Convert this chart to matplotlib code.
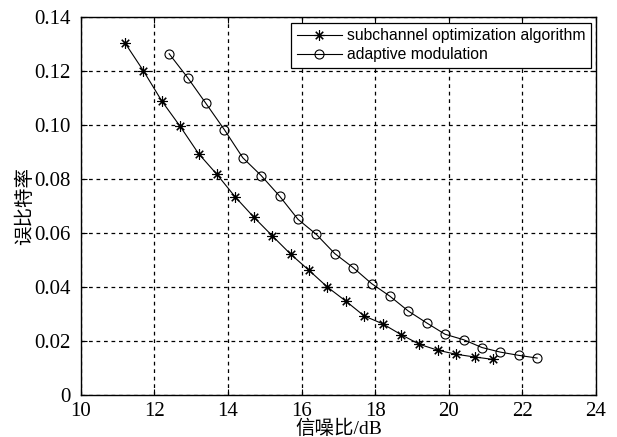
import matplotlib.pyplot as plt
import numpy as np

# data
snr_sub = [11.2, 11.7, 12.2, 12.7, 13.2, 13.7, 14.2, 14.7, 15.2, 15.7, 16.2,
           16.7, 17.2, 17.7, 18.2, 18.7, 19.2, 19.7, 20.2, 20.7, 21.2]
ber_sub = [0.1304, 0.1201, 0.1089, 0.0995, 0.0894, 0.0817, 0.0733, 0.0659, 0.0590, 0.0522, 0.0462,
           0.0400, 0.0348, 0.0293, 0.0264, 0.0224, 0.0188, 0.0166, 0.0151, 0.0141, 0.0132]

snr_ada = [12.4, 12.9, 13.4, 13.9, 14.4, 14.9, 15.4, 15.9, 16.4, 16.9, 17.4,
           17.9, 18.4, 18.9, 19.4, 19.9, 20.4, 20.9, 21.4, 21.9, 22.4]
ber_ada = [0.1264, 0.1176, 0.1080, 0.0983, 0.0879, 0.0813, 0.0737, 0.0651, 0.0595, 0.0524, 0.0472,
           0.0413, 0.0366, 0.0311, 0.0267, 0.0225, 0.0205, 0.0176, 0.0159, 0.0147, 0.0137]

x_ticks = [10, 12, 14, 16, 18, 20, 22, 24]
y_ticks = [0, 0.02, 0.04, 0.06, 0.08, 0.10, 0.12, 0.14]
y_labels = ['0', '0.02', '0.04', '0.06', '0.08', '0.10', '0.12', '0.14']

serif_cjk = ['Liberation Serif', 'Noto Sans CJK SC']
asterisk = (8, 2, 0)  # matlab style '*'

fig = plt.figure(figsize=(6.17, 4.37), dpi=100)
ax = fig.add_axes([0.131, 0.096, 0.835, 0.865])

ax.plot(snr_sub, ber_sub, '-', color='k', lw=0.8, marker=asterisk, ms=7.5, mew=0.8,
        label='subchannel optimization algorithm')
ax.plot(snr_ada, ber_ada, '-', color='k', lw=0.8, marker='o', ms=6.5, mfc='none', mew=0.8,
        label='adaptive modulation')

ax.set_xlim(10, 24)
ax.set_ylim(0, 0.14)
ax.set_xticks(x_ticks)
ax.set_xticklabels([str(t) for t in x_ticks], family='Liberation Serif', fontsize=15)
ax.set_yticks(y_ticks)
ax.set_yticklabels(y_labels, family='Liberation Serif', fontsize=15)
ax.tick_params(direction='in', length=4, top=True, right=True)
ax.tick_params(axis='x', pad=5)
ax.tick_params(axis='y', pad=7)
ax.grid(True, color='k', ls=(0, (3, 3)), lw=0.9)

for s in ax.spines.values():
    s.set_linewidth(1.0)

ax.set_xlabel('信噪比/dB', family=serif_cjk, fontsize=14, labelpad=-1)
ax.set_ylabel('误比特率', family=serif_cjk, fontsize=14, labelpad=0)

leg = ax.legend(loc='upper right', bbox_to_anchor=(0.99, 0.985),
                prop={'family': 'Liberation Sans', 'size': 11.3},
                fancybox=False, framealpha=1, edgecolor='k', borderaxespad=0,
                handlelength=2.9, handletextpad=0.3, borderpad=0.35, labelspacing=0.25)
leg.get_frame().set_linewidth(0.9)

plt.savefig('out.png', dpi=100)
